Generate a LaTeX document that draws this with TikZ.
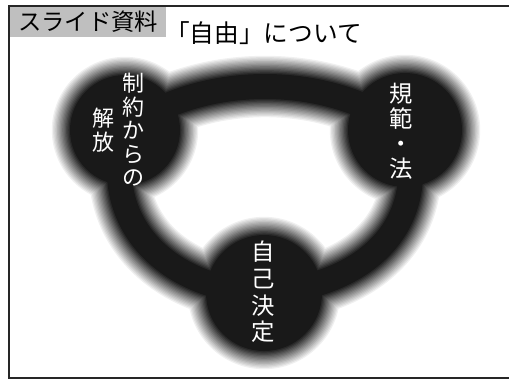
\documentclass[tikz,border=0pt]{standalone}
\usepackage{fontspec}
\setmainfont{Noto Sans CJK JP}
\usepackage{tikz}
\usetikzlibrary{positioning,calc}
\tikzset{
frame/.style={line width=1.2pt, black!85},
tagbox/.style={fill=black!25, text=black, minimum width=117pt, minimum height=22.5pt, inner sep=0pt, font=\fontsize{17.5}{20}\selectfont},
headline/.style={anchor=west, inner sep=0pt, font=\fontsize{18.5}{20}\selectfont},
vlabel/.style={text=white, align=center, inner sep=0pt, font=\fontsize{16.5}{#1}\selectfont},
vlabel/.default=17.6pt,
}

\begin{document}
\begin{tikzpicture}[x=0.75pt,y=-0.75pt]
    \useasboundingbox (0,0) rectangle (509,380);
    % centres of the three blobs
    \coordinate (cfree) at (125,130);
    \coordinate (cnorm) at (405,130);
    \coordinate (cself) at (264,293);

    % soft edge: outer layers light, inner layers dark
    \foreach \k in {0,...,14}{
        \pgfmathsetmacro\e{(14-\k)*1.3}
        \pgfmathsetmacro\g{6+\k*6}
        \pgfmathsetmacro\lw{(25+2*\e)*0.75}
        \draw[black!\g, line width=\lw pt, line join=round]
            (cfree) .. controls (200,72) and (330,72) .. (cnorm)
                    .. controls (432,230) and (360,287) .. (cself)
                    .. controls (170,290) and (98,225) .. (cfree) -- cycle;
        \fill[black!\g] (cfree) circle[radius=55+\e];
        \fill[black!\g] (cnorm) circle[radius=57+\e];
        \fill[black!\g] (cself) circle[radius=58+\e];
    }

    \node[vlabel] (free1) at (133,130) {制\\約\\か\\ら\\の};
    \node[vlabel] (free2) at (103,130) {解\\放};
    \node[vlabel=18.8pt, font=\fontsize{17.5}{18.8}\selectfont] (norm) at (401,131) {規\\範\\・\\法};
    \node[vlabel=20pt, font=\fontsize{17.5}{20}\selectfont] (self) at (263,292) {自\\己\\決\\定};

    % slide frame and heading
    \draw[frame] (509,6) -- (9,6) -- (9,378) -- (509,378);
    \node[tagbox] (tag) at (88,22) {スライド資料};
    \node[headline] (head) at (165,33) {「自由」について};
\end{tikzpicture}
\end{document}
